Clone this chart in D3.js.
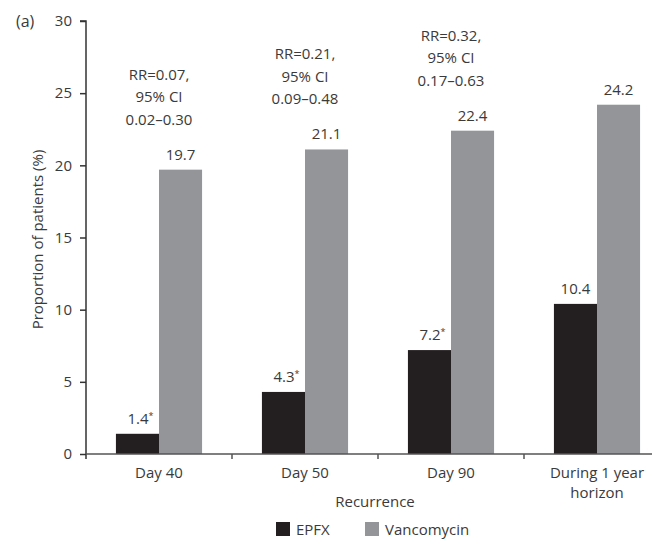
<!DOCTYPE html>
<html>
<head>
<meta charset="utf-8">
<script src="https://cdn.jsdelivr.net/npm/d3@7"></script>
<style>
  html, body { margin: 0; padding: 0; background: #fff; }
  svg { display: block; }
  text { font-family: "Open Sans", "Noto Sans", sans-serif; fill: #3a3a3a; }
</style>
</head>
<body>
<svg id="chart" width="652" height="539"></svg>
<script>
// Recurrence rates by time point
const categories = ["Day 40", "Day 50", "Day 90", "During 1 year horizon"];
const categoryLines = [["Day 40"], ["Day 50"], ["Day 90"], ["During 1 year", "horizon"]];
const seriesNames = ["EPFX", "Vancomycin"];
const epfxValues = [1.4, 4.3, 7.2, 10.4];
const vancomycinValues = [19.7, 21.1, 22.4, 24.2];
const epfxLabels = ["1.4", "4.3", "7.2", "10.4"];
const epfxSignificant = [true, true, true, false];
const vancomycinLabels = ["19.7", "21.1", "22.4", "24.2"];
const rrNotes = [
  ["RR=0.07,", "95% CI", "0.02–0.30"],
  ["RR=0.21,", "95% CI", "0.09–0.48"],
  ["RR=0.32,", "95% CI", "0.17–0.63"],
  null
];
const yTicks = [0, 5, 10, 15, 20, 25, 30];
const colors = { EPFX: "#231f20", Vancomycin: "#939598" };

const FS = 15;
const svg = d3.select("#chart");
const plotLeft = 86, plotBottom = 454, plotTop = 21, plotRight = 670;

const x = d3.scaleBand().domain(categories).range([plotLeft, plotRight])
  .paddingInner(0.41).paddingOuter(0.205);
const xs = d3.scaleBand().domain(seriesNames).range([0, x.bandwidth()]);
const y = d3.scaleLinear().domain([0, 30]).range([plotBottom, plotTop]);

const data = categories.map((c, i) => ({
  cat: c,
  vals: [
    { s: "EPFX", v: epfxValues[i], label: epfxLabels[i], star: epfxSignificant[i] },
    { s: "Vancomycin", v: vancomycinValues[i], label: vancomycinLabels[i], star: false }
  ]
}));

// Bars
const groups = svg.append("g").selectAll("g").data(data).join("g")
  .attr("transform", d => `translate(${x(d.cat)},0)`);
groups.selectAll("rect").data(d => d.vals).join("rect")
  .attr("x", d => xs(d.s))
  .attr("width", xs.bandwidth())
  .attr("y", d => y(d.v))
  .attr("height", d => y(0) - y(d.v))
  .attr("fill", d => colors[d.s]);

// Value labels (significant differences marked with a small asterisk)
const labelGap = 10;
groups.selectAll("text.val").data(d => d.vals).join("text")
  .attr("class", "val")
  .attr("x", d => xs(d.s) + xs.bandwidth() / 2 + (d.star ? 3 : 0))
  .attr("y", d => y(d.v) - labelGap)
  .attr("text-anchor", "middle")
  .attr("font-size", FS)
  .each(function (d) {
    const t = d3.select(this);
    t.append("tspan").text(d.label);
    if (d.star) t.append("tspan").attr("font-size", 9).attr("dy", -5).text("*");
  });

// Risk ratio annotations above each pair
categories.forEach((c, i) => {
  if (!rrNotes[i]) return;
  const base = y(vancomycinValues[i]) - labelGap - 35;
  const t = svg.append("text")
    .attr("text-anchor", "middle")
    .attr("font-size", FS);
  rrNotes[i].forEach((line, j) => {
    t.append("tspan")
      .attr("x", x(c) + x.bandwidth() / 2)
      .attr("y", base - (rrNotes[i].length - 1 - j) * 22.5)
      .text(line);
  });
});

// Y axis
const yAxis = d3.axisLeft(y).tickValues(yTicks).tickSize(6).tickPadding(8);
const gy = svg.append("g").attr("transform", `translate(${plotLeft},0)`).call(yAxis);
gy.select(".domain").attr("stroke", "#333").attr("stroke-width", 1.5)
  .attr("d", `M-6,${plotTop}H0V${plotBottom + 5}`);
gy.selectAll(".tick line").attr("stroke", "#333").attr("stroke-width", 1.5);
gy.selectAll(".tick text").attr("font-size", FS).attr("fill", "#3a3a3a")
  .style("font-family", "'Open Sans', 'Noto Sans', sans-serif");

// X axis
const gx = svg.append("g").attr("transform", `translate(0,${plotBottom})`);
gx.append("line").attr("x1", plotLeft).attr("x2", plotRight).attr("stroke", "#555").attr("stroke-width", 1.5);
const boundaries = categories.slice(1).map(c => x(c) - x.step() * x.paddingInner() / 2);
gx.selectAll("line.tk").data(boundaries).join("line")
  .attr("class", "tk")
  .attr("x1", d => d).attr("x2", d => d)
  .attr("y1", 0).attr("y2", 5)
  .attr("stroke", "#555").attr("stroke-width", 1.5);
categories.forEach((c, i) => {
  const t = gx.append("text").attr("text-anchor", "middle").attr("font-size", FS);
  categoryLines[i].forEach((line, j) => {
    t.append("tspan").attr("x", x(c) + x.bandwidth() / 2).attr("y", 24 + j * 20).text(line);
  });
});

// Axis titles
svg.append("text")
  .attr("x", (plotLeft + plotRight) / 2 - 3).attr("y", 507)
  .attr("text-anchor", "middle").attr("font-size", FS)
  .text("Recurrence");
svg.append("text")
  .attr("transform", `translate(43,${(plotTop + plotBottom) / 2 + 2}) rotate(-90)`)
  .attr("text-anchor", "middle").attr("font-size", FS)
  .text("Proportion of patients (%)");

// Panel label
svg.append("text").attr("x", 16).attr("y", 27).attr("font-size", 16).text("(a)");

// Legend
const legend = svg.append("g");
[{ s: "EPFX", x: 276 }, { s: "Vancomycin", x: 365 }].forEach(d => {
  legend.append("rect").attr("x", d.x).attr("y", 522).attr("width", 14).attr("height", 14)
    .attr("fill", colors[d.s]);
  legend.append("text").attr("x", d.x + 20).attr("y", 535).attr("font-size", FS).text(d.s);
});
</script>
</body>
</html>
